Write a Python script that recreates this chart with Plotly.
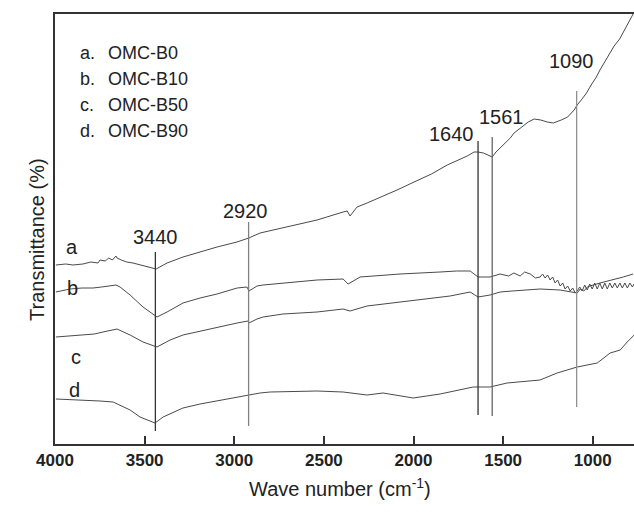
import plotly.graph_objects as go

# ---- data (wavenumber cm-1, relative transmittance, arbitrary units) ----
wn_a = [3995, 3940, 3900, 3844, 3800, 3760, 3749, 3720, 3700, 3680, 3660, 3654, 3630, 3600, 3565, 3487, 3436,
        3375, 3286, 3191, 3096, 2985, 2919, 2856, 2728, 2538, 2393, 2370, 2354, 2315, 2259, 2181, 2092,
        1997, 1900, 1812, 1740, 1700, 1662, 1640, 1610, 1580, 1561, 1540, 1511, 1480, 1460, 1439, 1400,
        1360, 1327, 1290, 1254, 1220, 1176, 1140, 1104, 1087, 1060, 1035, 1009, 980, 960, 936, 910, 881,
        850, 830, 808, 790, 775]
t_a = [179, 180, 179, 180, 182, 181, 184, 183, 186, 184, 188, 186, 184, 182, 181, 177, 175,
       181, 187, 192, 197, 202, 206, 211, 216, 224, 232, 233, 228, 237, 241, 247, 254,
       262, 270, 279, 285, 288, 292, 292, 291, 289, 287, 292, 297, 302, 306, 311, 316,
       322, 325, 324, 322, 321, 324, 327, 334, 339, 345, 351, 359, 367, 374, 381, 389, 398,
       405, 412, 419, 425, 430]

wn_b = [3995, 3916, 3850, 3788, 3740, 3693, 3660, 3637, 3581, 3509, 3431, 3375, 3286, 3191, 3096, 2984,
        2929, 2918, 2873, 2839, 2728, 2538, 2393, 2365, 2298, 2075, 1852, 1760, 1684, 1640, 1573, 1517,
        1470, 1440, 1405, 1380, 1349, 1320, 1294, 1280, 1266, 1252, 1238, 1224, 1210, 1196, 1182, 1168,
        1154, 1140, 1126, 1112, 1098, 1087, 1073, 1059, 1045, 1031, 1017, 1003, 989, 975, 961, 947,
        933, 919, 905, 891, 877, 863, 849, 835, 821, 807, 793, 779, 770]
t_b = [152, 155, 156, 156, 157, 158, 159, 157, 149, 137, 127, 132, 141, 146, 150, 156,
       157, 153, 158, 159, 161, 164, 165, 160, 167, 170, 172, 173, 173, 167, 167, 170,
       168, 171, 168, 172, 170, 166, 167, 170, 166, 169, 164, 167, 161, 164, 158, 161,
       155, 158, 153, 156, 151, 153, 157, 153, 159, 154, 160, 155, 161, 155, 161, 155,
       161, 155, 161, 156, 161, 156, 161, 156, 161, 156, 161, 157, 160]

wn_c = [3995, 3900, 3844, 3780, 3732, 3680, 3654, 3581, 3509, 3431, 3358, 3286, 3191, 3096, 2984,
        2924, 2918, 2873, 2839, 2728, 2538, 2393, 2354, 2259, 2075, 1852, 1796, 1684, 1640, 1573,
        1517, 1450, 1388, 1294, 1182, 1120, 1087, 1070, 1050, 1030, 1016, 960, 887, 830, 775]
t_c = [107, 108, 109, 110, 112, 114, 115, 109, 102, 97, 104, 109, 113, 117, 121,
       123, 121, 125, 127, 130, 132, 135, 133, 138, 142, 147, 148, 152, 147, 149,
       152, 153, 154, 155, 154, 152, 151, 155, 153, 157, 158, 161, 164, 167, 170]

wn_d = [3995, 3844, 3749, 3676, 3637, 3581, 3526, 3470, 3442, 3397, 3286, 3191, 3096, 2984, 2919,
        2856, 2800, 2538, 2393, 2259, 2170, 2002, 1852, 1667, 1573, 1478, 1294, 1199, 1087, 975,
        903, 847, 808, 769]
t_d = [45, 44, 43, 42, 39, 34, 27, 23, 21, 27, 36, 40, 43, 47, 49,
       51, 52, 53, 52, 49, 51, 46, 50, 57, 57, 61, 64, 71, 77, 81,
       91, 94, 102, 109]

curve_labels = ["a", "b", "c", "d"]
sample_names = ["OMC-B0", "OMC-B10", "OMC-B50", "OMC-B90"]
peak_wn = [3440, 2920, 1640, 1561, 1090]
peak_labels = ["3440", "2920", "1640", "1561", "1090"]
peak_line_top = [192, 222, 303, 307, 353]
peak_line_bottom = [13, 18, 29, 28, 37]
peak_line_color = ["#333333", "#808080", "#333333", "#666666", "#909090"]
peak_label_pos = [(3440, 207), (2935, 233), (1790, 310), (1511, 327), (1120, 383)]
curve_label_pos = [(3905, 197), (3900, 156), (3885, 87), (3890, 54)]
x_ticks = [4000, 3500, 3000, 2500, 2000, 1500, 1000]

FONT = "Liberation Sans, Arial"
fig = go.Figure()
line_style = dict(color="#4a4a4a", width=1)
for xs, ys in [(wn_a, t_a), (wn_b, t_b), (wn_c, t_c), (wn_d, t_d)]:
    fig.add_trace(go.Scatter(x=xs, y=ys, mode="lines", line=line_style,
                             showlegend=False, hoverinfo="skip"))

for w, top, bot, col in zip(peak_wn, peak_line_top, peak_line_bottom, peak_line_color):
    fig.add_trace(go.Scatter(x=[w, w], y=[bot, top], mode="lines",
                             line=dict(color=col, width=1.3),
                             showlegend=False, hoverinfo="skip"))

annotations = []
for (px, py), txt in zip(peak_label_pos, peak_labels):
    annotations.append(dict(x=px, y=py, text=txt, showarrow=False, xref="x", yref="y",
                            font=dict(size=20, color="#222222", family=FONT)))
for (px, py), txt in zip(curve_label_pos, curve_labels):
    annotations.append(dict(x=px, y=py, text=txt, showarrow=False, xref="x", yref="y",
                            font=dict(size=20, color="#222222", family=FONT)))
legend_y = [53, 79, 105, 131]
for yy, lab, name in zip(legend_y, curve_labels, sample_names):
    yv = 444 - yy
    annotations.append(dict(x=3870, y=yv, text=lab + ".", showarrow=False, xref="x", yref="y",
                            xanchor="left", font=dict(size=18, color="#222222", family=FONT)))
    annotations.append(dict(x=3713, y=yv, text=name, showarrow=False, xref="x", yref="y",
                            xanchor="left", font=dict(size=18, color="#222222", family=FONT)))

annotations.append(dict(x=(340 - 55) / 579, y=-(502 - 444) / 430, xref="paper", yref="paper",
                        text="Wave number (cm<sup>-1</sup>)", showarrow=False,
                        font=dict(size=20, color="#222222", family=FONT)))
annotations.append(dict(x=-(55 - 24) / 579, y=(444 - 240) / 430, xref="paper", yref="paper",
                        text="Transmittance (%)", showarrow=False, textangle=-90,
                        font=dict(size=20, color="#222222", family=FONT)))

fig.update_layout(
    width=634, height=513,
    margin=dict(l=55, r=0, t=14, b=69, autoexpand=False),
    paper_bgcolor="white", plot_bgcolor="white",
    annotations=annotations,
    xaxis=dict(range=[4000, 770], tickvals=x_ticks, ticktext=[str(t) for t in x_ticks],
               ticks="inside", ticklen=8, tickwidth=1.5, tickcolor="#333333",
               showline=True, linecolor="#333333", linewidth=2, mirror=True,
               showgrid=False, zeroline=False,
               tickfont=dict(size=17, color="#222222", family=FONT, weight="bold")),
    yaxis=dict(range=[0, 430], showticklabels=False, ticks="",
               showline=True, linecolor="#333333", linewidth=2, mirror=False,
               showgrid=False, zeroline=False),
)

fig.write_html("out.html", config={"displayModeBar": False},
               post_script="document.body.style.margin='0';document.body.style.overflow='hidden';")
